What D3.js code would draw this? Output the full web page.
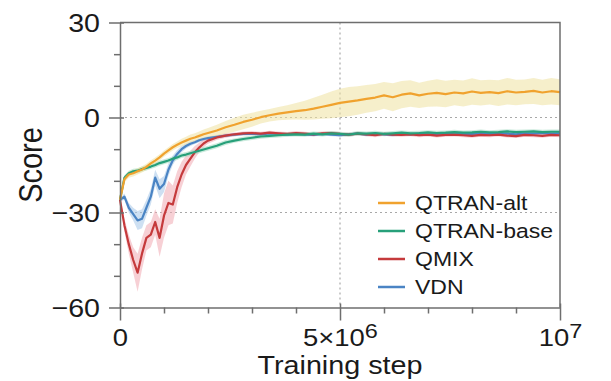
<!DOCTYPE html>
<html lang="en">
<head>
<meta charset="utf-8">
<title>Score vs training step</title>
<style>
  body { margin: 0; background: #fff; }
  svg { display: block; font-family: "Liberation Sans", Arial, Helvetica, sans-serif; }
  .axis path, .axis line { stroke: #6e6e6e; stroke-width: 1.5px; fill: none; }
  .axis text { fill: #1a1a1a; }
  .grid { stroke: #a8a8a8; stroke-width: 1.2px; stroke-dasharray: 2,3; }
  .frame { stroke: #6e6e6e; stroke-width: 1.5px; fill: none; }
  .line { fill: none; stroke-width: 2.2px; stroke-linejoin: round; }
</style>
</head>
<body>
<script src="https://cdnjs.cloudflare.com/ajax/libs/d3/7.8.5/d3.min.js"></script>
<script>
// training step, in units of 1e5
var stepsE5 = [0,1,2,3,4,5,6,7,8,9,10,11,12,13,14,15,16,17,18,19,20,
  22,24,26,28,30,32,34,36,38,40,42,44,46,48,50,52,54,56,58,60,
  62,64,66,68,70,72,74,76,78,80,82,84,86,88,90,92,94,96,98,100];

var names = ["QTRAN-alt", "QTRAN-base", "QMIX", "VDN"];
var lineColors = ["#f0a22e", "#27a07a", "#c53a3c", "#4a84c4"];
var bandColors = ["#efe2a0", "#9fd8c0", "#f0a9b2", "#a6c6e8"];

var qtranAlt = [-26,-19.5,-18,-17.6,-17,-16.4,-15.6,-14.5,-13.6,-12.6,-11.4,-10.4,-9.4,-8.6,-7.9,-7.3,-6.7,-6.3,-5.8,-5.3,-4.9,
  -4.1,-3.1,-2.3,-1.4,-0.7,0.1,0.7,1.2,1.6,2.0,2.3,2.8,3.4,4.0,4.6,5.0,5.4,5.9,6.3,7.0,
  6.4,7.2,7.6,7.0,7.5,7.8,7.4,7.9,7.6,8.2,7.8,8.0,7.7,8.3,7.9,8.1,8.4,7.9,8.3,8.0];
var qtranAltSpread = [0.5,1,1,1,1,1,1,1,1,1,1,1,1,1,1.2,1.2,1.3,1.3,1.4,1.5,1.6,
  1.8,2.0,2.2,2.3,2.2,2.0,2.0,2.1,2.3,2.6,3.0,3.4,3.8,4.2,4.5,4.6,4.5,4.4,4.3,4.2,
  4.4,4.3,4.2,4.0,4.1,4.3,4.2,4.0,4.1,4.2,4.0,3.9,4.1,4.2,4.0,3.9,4.1,4.0,4.2,4.1];

var qtranBase = [-26,-19,-17.6,-17,-16.8,-16.3,-15.9,-15.5,-15,-14.4,-14,-13.6,-13,-12.6,-12,-11.7,-11.3,-10.9,-10.5,-10.1,-9.7,
  -8.9,-7.9,-7.3,-6.8,-6.4,-6.0,-5.8,-5.6,-5.4,-5.3,-5.4,-5.1,-5.3,-5.0,-5.2,-5.4,-5.0,-5.1,-4.9,-5.2,
  -5.0,-4.8,-5.0,-4.9,-4.7,-4.9,-4.8,-4.6,-4.8,-4.7,-4.5,-4.7,-4.6,-4.4,-4.6,-4.5,-4.4,-4.6,-4.5,-4.5];
var qtranBaseSpread = [0.4,0.8,0.8,0.8,0.8,0.8,0.8,0.8,0.8,0.8,0.8,0.8,0.8,0.8,0.8,0.8,0.8,0.8,0.8,0.8,0.8,
  0.8,0.8,0.7,0.7,0.7,0.7,0.7,0.7,0.7,0.7,0.7,0.7,0.7,0.7,0.7,0.7,0.7,0.7,0.7,0.7,
  0.7,0.7,0.7,0.7,0.7,0.7,0.7,0.7,0.7,0.7,0.7,0.7,0.7,0.7,0.7,0.7,0.7,0.7,0.7,0.7];

var qmix = [-26,-34,-40,-45,-49,-43,-38,-37,-33,-38,-31,-27,-27.5,-22,-18,-15,-13,-11,-9.5,-8.2,-7.3,
  -6.3,-5.7,-5.3,-5.0,-4.9,-5.1,-4.8,-5.0,-5.2,-4.9,-5.1,-5.3,-5.0,-4.9,-5.2,-5.4,-5.1,-5.3,-5.6,-5.2,
  -5.4,-5.5,-5.3,-5.6,-5.4,-5.7,-5.5,-5.4,-5.6,-5.8,-5.5,-5.6,-5.4,-5.7,-5.9,-5.5,-5.6,-5.8,-5.5,-5.6];
var qmixSpread = [0.5,2,3,4,6,5,4,4,4,6,7,7,6,5,4,3,2.5,2,1.5,1.2,1,
  0.8,0.7,0.6,0.6,0.6,0.6,0.6,0.6,0.6,0.6,0.6,0.6,0.6,0.6,0.6,0.6,0.6,0.6,0.6,0.6,
  0.6,0.6,0.6,0.6,0.6,0.6,0.6,0.6,0.6,0.6,0.6,0.6,0.6,0.6,0.6,0.6,0.6,0.6,0.6,0.6];

var vdn = [-26,-25,-28.5,-30.5,-32.5,-32,-28.5,-25,-19,-22.5,-21,-16.5,-13.5,-11.5,-10,-9,-8.3,-7.8,-7.2,-6.8,-6.5,
  -6.1,-5.7,-5.4,-5.2,-5.1,-5.3,-5.0,-5.2,-5.4,-5.1,-5.3,-5.5,-5.2,-5.4,-5.6,-5.3,-5.1,-5.4,-5.2,-5.3,
  -5.5,-5.2,-5.3,-5.1,-5.4,-5.2,-5.0,-5.3,-5.1,-5.2,-5.0,-5.2,-4.9,-5.1,-5.3,-5.0,-5.1,-4.9,-5.1,-5.0];
var vdnSpread = [0.5,1,1.5,2,3,3,2.5,2.5,2.5,3,2.5,2,1.5,1.2,1,0.8,0.7,0.6,0.6,0.6,0.6,
  0.5,0.5,0.5,0.5,0.5,0.5,0.5,0.5,0.5,0.5,0.5,0.5,0.5,0.5,0.5,0.5,0.5,0.5,0.5,0.5,
  0.5,0.5,0.5,0.5,0.5,0.5,0.5,0.5,0.5,0.5,0.5,0.5,0.5,0.5,0.5,0.5,0.5,0.5,0.5,0.5];

var yMajorTicks = [-60, -30, 0, 30];
var yMinorTicks = [-50, -40, -20, -10, 10, 20];
var yGridTicks = [-30, 0];
var xMajorTicks = [0, 5e6, 1e7];
var xMinorTicks = [1e6, 2e6, 3e6, 4e6, 6e6, 7e6, 8e6, 9e6];
var xGridTicks = [5e6];
var xTickLabels = [["0", ""], ["5\u00d710", "6"], ["10", "7"]];

var fullwidth = 611, fullheight = 381;
var plotLeft = 120, plotRight = 560, plotTop = 22.5, plotBottom = 307.5;

var x = d3.scaleLinear().domain([0, 1e7]).range([plotLeft, plotRight]);
var y = d3.scaleLinear().domain([-60, 30]).range([plotBottom, plotTop]);

var svg = d3.select("body").append("svg")
  .attr("width", fullwidth)
  .attr("height", fullheight);

// gridlines
svg.selectAll("line.hgrid").data(yGridTicks).enter().append("line")
  .attr("class", "grid")
  .attr("x1", plotLeft).attr("x2", plotRight)
  .attr("y1", function(d) { return y(d); }).attr("y2", function(d) { return y(d); });
svg.selectAll("line.vgrid").data(xGridTicks).enter().append("line")
  .attr("class", "grid")
  .attr("y1", plotTop).attr("y2", plotBottom)
  .attr("x1", function(d) { return x(d); }).attr("x2", function(d) { return x(d); });

var series = [
  { name: names[0], mean: qtranAlt, spread: qtranAltSpread, color: lineColors[0], band: bandColors[0] },
  { name: names[1], mean: qtranBase, spread: qtranBaseSpread, color: lineColors[1], band: bandColors[1] },
  { name: names[2], mean: qmix, spread: qmixSpread, color: lineColors[2], band: bandColors[2] },
  { name: names[3], mean: vdn, spread: vdnSpread, color: lineColors[3], band: bandColors[3] }
];

series.forEach(function(s) {
  s.points = stepsE5.map(function(t, i) {
    return { step: t * 1e5, mean: s.mean[i], lo: s.mean[i] - s.spread[i], hi: s.mean[i] + s.spread[i] };
  });
});

var area = d3.area()
  .x(function(d) { return x(d.step); })
  .y0(function(d) { return y(d.lo); })
  .y1(function(d) { return y(d.hi); });

var line = d3.line()
  .x(function(d) { return x(d.step); })
  .y(function(d) { return y(d.mean); });

// draw order: VDN, QMIX, QTRAN-base, QTRAN-alt
var drawOrder = [series[3], series[2], series[1], series[0]];

svg.append("g").selectAll("path")
  .data(drawOrder).enter().append("path")
  .attr("d", function(d) { return area(d.points); })
  .attr("fill", function(d) { return d.band; })
  .attr("opacity", 0.55);

svg.append("g").selectAll("path")
  .data(drawOrder).enter().append("path")
  .attr("class", "line")
  .attr("d", function(d) { return line(d.points); })
  .attr("stroke", function(d) { return d.color; });

// frame top and right
svg.append("path")
  .attr("class", "frame")
  .attr("d", "M" + plotLeft + "," + plotTop + "H" + plotRight + "V" + plotBottom);

// y axis
var yAxis = svg.append("g")
  .attr("class", "axis")
  .attr("transform", "translate(" + plotLeft + ",0)")
  .call(d3.axisLeft(y).tickValues(yMajorTicks).tickSizeOuter(0)
    .tickFormat(function(d) { return d < 0 ? "\u2212" + Math.abs(d) : d; }));
yAxis.selectAll(".tick line").attr("x1", 4).attr("x2", -11);
yAxis.selectAll(".tick text")
  .attr("x", -20 / 1.1)
  .attr("dy", "0.35em")
  .attr("transform", "scale(1.1,1)")
  .style("font-size", "26px");

svg.append("g")
  .attr("class", "axis")
  .attr("transform", "translate(" + plotLeft + ",0)")
  .call(d3.axisLeft(y).tickValues(yMinorTicks).tickSize(6).tickFormat(""))
  .select(".domain").remove();

// x axis
var xAxis = svg.append("g")
  .attr("class", "axis")
  .attr("transform", "translate(0," + plotBottom + ")")
  .call(d3.axisBottom(x).tickValues(xMajorTicks).tickSizeOuter(0).tickFormat(""));
xAxis.selectAll(".tick line").attr("y1", -4).attr("y2", 13);
xAxis.selectAll(".tick text").each(function(d, i) {
  var t = d3.select(this)
    .attr("y", 38.5)
    .attr("dy", 0)
    .attr("transform", "scale(1.12,1)")
    .style("font-size", "24.5px");
  t.text(null);
  t.append("tspan").text(xTickLabels[i][0]);
  if (xTickLabels[i][1]) {
    t.append("tspan").attr("dy", -8).style("font-size", "21px").text(xTickLabels[i][1]);
  }
});

svg.append("g")
  .attr("class", "axis")
  .attr("transform", "translate(0," + plotBottom + ")")
  .call(d3.axisBottom(x).tickValues(xMinorTicks).tickSize(6).tickFormat(""))
  .select(".domain").remove();

// axis titles
svg.append("text")
  .attr("transform", "translate(340,374) scale(1.15,1)")
  .attr("text-anchor", "middle")
  .style("font-size", "25px")
  .attr("fill", "#1a1a1a")
  .text("Training step");

svg.append("text")
  .attr("transform", "translate(42,165) scale(1.15,1) rotate(-90)")
  .attr("text-anchor", "middle")
  .style("font-size", "29px")
  .attr("fill", "#1a1a1a")
  .text("Score");

// legend
var legend = svg.append("g").selectAll("g")
  .data(series).enter().append("g")
  .attr("transform", function(d, i) { return "translate(378," + (203 + i * 28) + ")"; });
legend.append("line")
  .attr("x1", 0).attr("x2", 27)
  .attr("stroke", function(d) { return d.color; })
  .attr("stroke-width", 2.5);
legend.append("text")
  .attr("transform", "translate(37,0) scale(1.18,1)")
  .attr("dy", "0.35em")
  .style("font-size", "19.5px")
  .attr("fill", "#1a1a1a")
  .text(function(d) { return d.name; });
</script>
</body>
</html>
